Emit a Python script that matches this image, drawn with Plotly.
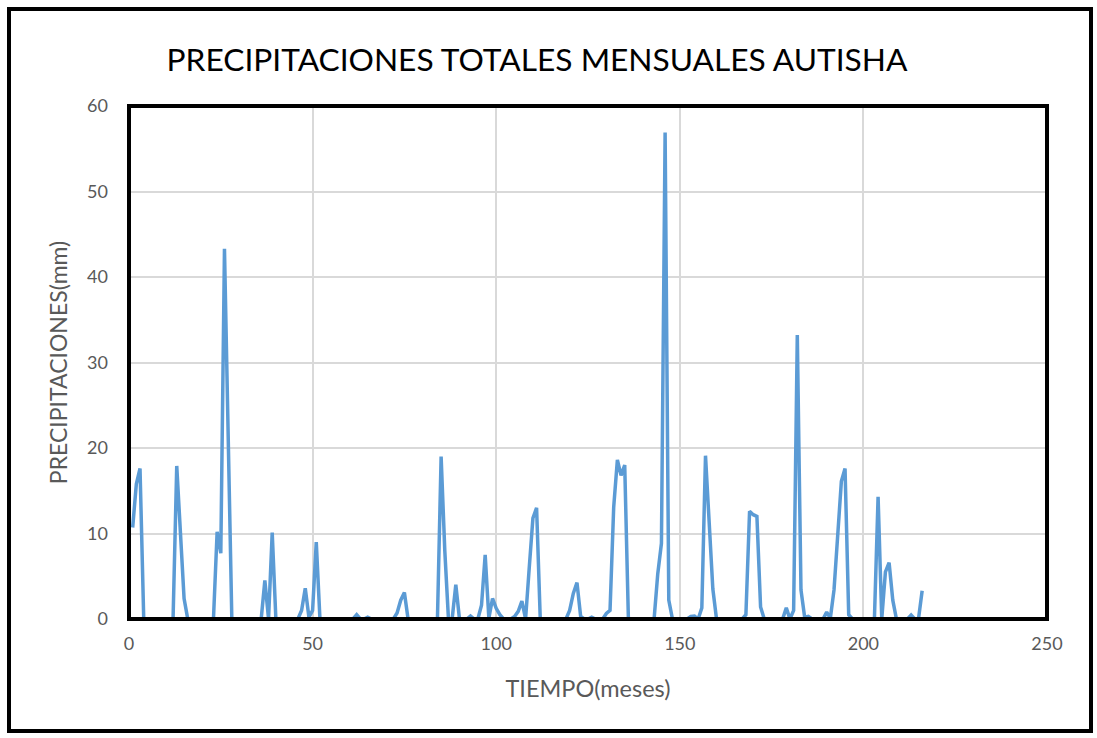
import plotly.graph_objects as go

# Monthly total precipitation at Autisha (mm), month index 1..216
meses = list(range(1, 217))
precipitacion = [
    10.7, 15.8, 17.6, 0.2, 0, 0, 0, 0, 0, 0, 0, 0,
    17.9, 9.5, 2.4, 0, 0, 0, 0, 0, 0, 0, 0, 10.2,
    7.7, 43.3, 20.0, 0, 0, 0, 0, 0, 0, 0, 0, 0,
    4.5, 0, 10.1, 0, 0, 0, 0, 0, 0, 0, 1.0, 3.6,
    0.2, 1.0, 9.0, 0, 0, 0, 0, 0, 0, 0, 0, 0,
    0, 0.5, 0, 0, 0.2, 0, 0, 0, 0, 0, 0, 0,
    0.7, 2.2, 3.1, 0, 0, 0, 0, 0, 0, 0, 0, 0,
    19.0, 8.0, 0, 0, 4.0, 0, 0, 0, 0.35, 0, 0, 1.6,
    7.5, 0.1, 2.4, 1.25, 0.5, 0, 0, 0, 0.3, 0.9, 2.1, 0,
    6.0, 11.8, 13.0, 0, 0, 0, 0, 0, 0, 0, 0, 1.0,
    3.0, 4.25, 0.3, 0, 0, 0.2, 0, 0, 0, 0.65, 1.0, 13.1,
    18.6, 16.8, 18.0, 0, 0, 0, 0, 0, 0, 0, 0, 5.3,
    8.85, 56.9, 2.2, 0, 0, 0, 0, 0, 0.3, 0.35, 0, 1.3,
    19.1, 12.0, 3.5, 0, 0, 0, 0, 0, 0, 0, 0, 0.5,
    12.6, 12.2, 12.0, 1.4, 0, 0, 0, 0, 0, 0, 1.3, 0,
    1.0, 33.2, 3.4, 0.2, 0.3, 0, 0, 0, 0, 0.8, 0.1, 3.4,
    9.8, 16.1, 17.6, 0.5, 0, 0, 0, 0, 0, 0, 0, 14.3,
    0, 5.5, 6.6, 2.2, 0, 0, 0, 0, 0.45, 0, 0, 3.3,
]

x_ticks = [0, 50, 100, 150, 200, 250]
y_ticks = [0, 10, 20, 30, 40, 50, 60]

titulo = "PRECIPITACIONES TOTALES MENSUALES AUTISHA"
titulo_x = "TIEMPO(meses)"
titulo_y = "PRECIPITACIONES(mm)"

W, H = 1097, 738
ML, MR, MT, MB = 129, 50, 106, 119
PW, PH = W - ML - MR, H - MT - MB

font_family = "Lato, 'Open Sans', sans-serif"
gris = "#595959"

fig = go.Figure()
fig.add_trace(go.Scatter(
    x=meses, y=precipitacion, mode="lines",
    line=dict(color="#5B9BD5", width=3.5),
    showlegend=False,
))

def px_to_paper_x(px):
    return (px - ML) / PW

def px_to_paper_y(py):
    return (H - MB - py) / PH

fig.update_layout(
    width=W, height=H,
    margin=dict(l=ML, r=MR, t=MT, b=MB),
    paper_bgcolor="white", plot_bgcolor="white",
    font=dict(family=font_family, color=gris, size=18),
    title=dict(
        text=titulo, x=px_to_paper_x(537), xref="paper", xanchor="center",
        y=1 - 60 / H, yanchor="middle",
        font=dict(size=31.7, color="#000000", family=font_family),
    ),
    xaxis=dict(
        range=[0, 250], tickvals=x_ticks, ticktext=[str(v) for v in x_ticks],
        showgrid=True, gridcolor="#d9d9d9", gridwidth=1.5,
        zeroline=False, showline=False, ticks="",
        ticklabelstandoff=12,
        tickfont=dict(size=18, color=gris),
        title=dict(text=titulo_x, font=dict(size=23.5, color=gris), standoff=27),
    ),
    yaxis=dict(
        range=[0, 60], tickvals=y_ticks, ticktext=[str(v) for v in y_ticks],
        showgrid=True, gridcolor="#d9d9d9", gridwidth=1.5,
        zeroline=False, showline=False, ticks="",
        ticklabelstandoff=20,
        tickfont=dict(size=18, color=gris),
        title=dict(text=titulo_y, font=dict(size=23, color=gris), standoff=13),
    ),
    shapes=[
        # frame around the plotting area
        dict(type="rect", xref="paper", yref="paper", x0=0, x1=1, y0=0, y1=1,
             line=dict(color="black", width=4), layer="above"),
        # outer border of the whole chart
        dict(type="rect", xref="paper", yref="paper",
             x0=px_to_paper_x(9), x1=px_to_paper_x(1091),
             y0=px_to_paper_y(731), y1=px_to_paper_y(9),
             line=dict(color="black", width=4), layer="above"),
    ],
)

fig.write_html("out.html")
